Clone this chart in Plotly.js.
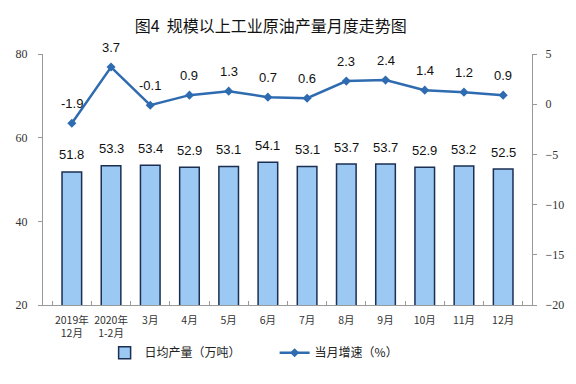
<!DOCTYPE html>
<html>
<head>
<meta charset="utf-8">
<script src="https://cdn.plot.ly/plotly-3.0.1.min.js"></script>
<style>html,body{margin:0;padding:0;background:#fff;}#chart{width:576px;height:384px;}</style>
</head>
<body>
<div id="chart"></div>
<script>
const categories = ['2019年<br>12月','2020年<br>1-2月','3月','4月','5月','6月','7月','8月','9月','10月','11月','12月'];
const dailyOutput = [51.8, 53.3, 53.4, 52.9, 53.1, 54.1, 53.1, 53.7, 53.7, 52.9, 53.2, 52.5];
const growthRate = [-1.9, 3.7, -0.1, 0.9, 1.3, 0.7, 0.6, 2.3, 2.4, 1.4, 1.2, 0.9];
const barName = '日均产量（万吨）';
const lineName = '当月增速（%）';

const cjk = '"Noto Sans CJK SC", sans-serif';
const numFont = '"Liberation Sans", Arial, sans-serif';
const serif = '"Liberation Serif", "Times New Roman", serif';

const traces = [
  {
    type: 'bar', name: barName, x: categories, y: dailyOutput,
    width: 0.5,
    marker: {color: '#9CC8F4', line: {color: '#1B2F52', width: 1.5}},
    hoverinfo: 'none'
  },
  {
    type: 'scatter', mode: 'lines+markers', name: lineName, x: categories, y: growthRate,
    yaxis: 'y2',
    line: {color: '#2E6BB0', width: 2.5},
    marker: {symbol: 'diamond', size: 7, color: '#2E6BB0'},
    cliponaxis: false, hoverinfo: 'none'
  }
];

const annotations = [];
categories.forEach((c, i) => {
  annotations.push({x: c, y: dailyOutput[i], xref: 'x', yref: 'y', text: dailyOutput[i].toFixed(1),
    showarrow: false, yshift: 17, font: {family: numFont, size: 13, color: '#111'}});
  annotations.push({x: c, y: growthRate[i], xref: 'x', yref: 'y2', text: growthRate[i].toFixed(1),
    showarrow: false, yshift: 20, font: {family: numFont, size: 13, color: '#111'}});
});

const layout = {
  width: 576, height: 384,
  margin: {l: 43, r: 44, t: 54, b: 79},
  paper_bgcolor: '#fff', plot_bgcolor: '#fff',
  title: {text: '图4  规模以上工业原油产量月度走势图', x: 0.47, xanchor: 'center', y: 0.93, yanchor: 'middle',
          font: {family: cjk, size: 16, color: '#111'}},
  showlegend: true,
  legend: {orientation: 'h', x: 0.126, xanchor: 'left', y: -0.19, yanchor: 'middle',
           font: {family: cjk, size: 12, color: '#222'}, entrywidth: 125, itemwidth: 30},
  annotations: annotations,
  bargap: 0.5,
  xaxis: {
    type: 'category', categoryorder: 'array', categoryarray: categories,
    showline: true, linecolor: '#999', linewidth: 1,
    ticks: 'inside', ticklen: 4, tickcolor: '#999', tickson: 'boundaries',
    tickangle: 0, ticklabelstandoff: 5,
    tickfont: {family: cjk, size: 10.5, color: '#333'},
    showgrid: false, zeroline: false, fixedrange: true
  },
  yaxis: {
    range: [20, 80], dtick: 20, showline: true, linecolor: '#999', linewidth: 1,
    ticks: 'outside', ticklen: 4, tickcolor: '#999', ticklabelstandoff: 8,
    tickfont: {family: serif, size: 12, color: '#333'},
    showgrid: false, zeroline: false, fixedrange: true
  },
  yaxis2: {
    overlaying: 'y', side: 'right',
    range: [-20, 5], dtick: 5, showline: true, linecolor: '#999', linewidth: 1,
    ticks: 'outside', ticklen: 4, tickcolor: '#999', ticklabelstandoff: 6,
    tickfont: {family: serif, size: 12, color: '#333'},
    showgrid: false, zeroline: false, fixedrange: true
  }
};

Plotly.newPlot('chart', traces, layout, {staticPlot: true, displayModeBar: false});
</script>
</body>
</html>
